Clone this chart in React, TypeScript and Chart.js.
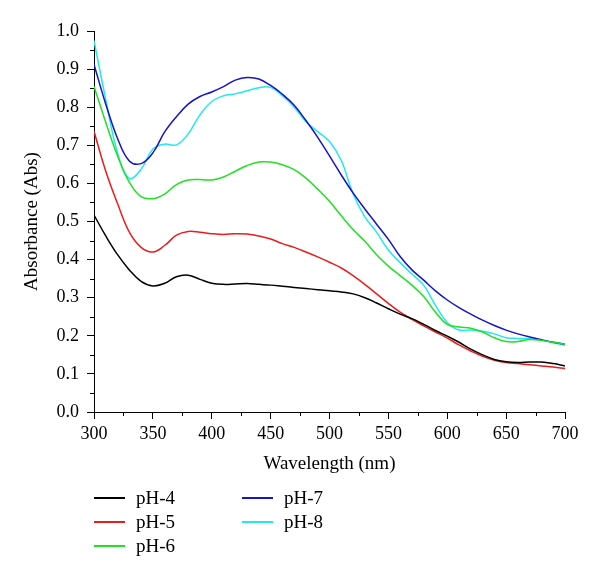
import React, { useEffect, useRef } from "react";
import { Chart, registerables } from "chart.js";

Chart.register(...registerables);

const wavelengths = [
  300, 310, 320, 330, 340, 350, 360, 370, 380, 390, 400, 410, 420, 430, 440, 450, 460, 470, 480, 490,
  500, 510, 520, 530, 540, 550, 560, 570, 580, 590, 600, 610, 620, 630, 640, 650, 660, 670, 680, 690, 700,
];

const ph4 = [
  0.517, 0.462, 0.413, 0.373, 0.343, 0.331, 0.338, 0.355, 0.359, 0.348, 0.338, 0.335, 0.336, 0.337, 0.335, 0.333, 0.33, 0.327, 0.324, 0.321,
  0.318, 0.315, 0.31, 0.3, 0.286, 0.271, 0.257, 0.245, 0.23, 0.214, 0.199, 0.183, 0.165, 0.15, 0.138, 0.132, 0.13, 0.131, 0.131, 0.127, 0.121,
];
const ph5 = [
  0.737, 0.632, 0.547, 0.472, 0.432, 0.42, 0.437, 0.464, 0.474, 0.472, 0.468, 0.466, 0.468, 0.467, 0.462, 0.454, 0.442, 0.432, 0.42, 0.407,
  0.393, 0.378, 0.358, 0.335, 0.31, 0.285, 0.262, 0.243, 0.226, 0.21, 0.194, 0.176, 0.16, 0.146, 0.136, 0.13, 0.127, 0.124, 0.121, 0.118, 0.114,
];
const ph6 = [
  0.855, 0.76, 0.672, 0.603, 0.565, 0.56, 0.572, 0.597, 0.609, 0.61, 0.609, 0.617, 0.632, 0.647, 0.656, 0.656, 0.649, 0.636, 0.614, 0.585,
  0.553, 0.515, 0.479, 0.448, 0.413, 0.383, 0.358, 0.333, 0.303, 0.262, 0.23, 0.223, 0.22, 0.21, 0.195, 0.185, 0.185, 0.19, 0.188, 0.183, 0.178,
];
const ph7 = [
  0.912, 0.808, 0.718, 0.659, 0.652, 0.68, 0.735, 0.775, 0.808, 0.828, 0.84, 0.854, 0.871, 0.878, 0.874, 0.857, 0.834, 0.805, 0.765, 0.721,
  0.672, 0.622, 0.575, 0.533, 0.493, 0.453, 0.408, 0.373, 0.346, 0.318, 0.294, 0.274, 0.257, 0.241, 0.227, 0.215, 0.205, 0.197, 0.19, 0.183, 0.178,
];
const ph8 = [
  0.975, 0.82, 0.68, 0.613, 0.637, 0.69, 0.703, 0.701, 0.73, 0.78, 0.815, 0.83, 0.835, 0.843, 0.851, 0.852, 0.83, 0.8, 0.762, 0.736,
  0.71, 0.66, 0.573, 0.512, 0.472, 0.425, 0.392, 0.362, 0.333, 0.28, 0.235, 0.215, 0.215, 0.212, 0.205, 0.195, 0.193, 0.192, 0.188, 0.182, 0.175,
];

const seriesLabels = ["pH-4", "pH-5", "pH-6", "pH-7", "pH-8"];
const seriesValues = [ph4, ph5, ph6, ph7, ph8];
const seriesColors = ["#000000", "#ec1c1c", "#22e022", "#1414c8", "#22e8f0"];

const xMajorTicks = [300, 350, 400, 450, 500, 550, 600, 650, 700];
const xMinorTicks = [325, 375, 425, 475, 525, 575, 625, 675];
const yMinorTicks = [0.05, 0.15, 0.25, 0.35, 0.45, 0.55, 0.65, 0.75, 0.85, 0.95];

const FONT = "'Liberation Serif', 'DejaVu Serif', serif";

const minorTickPlugin = {
  id: "minorTicks",
  afterDraw(chart: any) {
    const { ctx, chartArea } = chart;
    const xs = chart.scales.x;
    const ys = chart.scales.y;
    ctx.save();
    ctx.strokeStyle = "#000";
    ctx.lineWidth = 1;
    ctx.beginPath();
    for (const v of xMinorTicks) {
      const px = Math.round(xs.getPixelForValue(v)) + 0.5;
      ctx.moveTo(px, chartArea.bottom);
      ctx.lineTo(px, chartArea.bottom + 4);
    }
    for (const v of yMinorTicks) {
      const py = Math.round(ys.getPixelForValue(v)) + 0.5;
      ctx.moveTo(chartArea.left, py);
      ctx.lineTo(chartArea.left - 4, py);
    }
    ctx.stroke();
    ctx.restore();
  },
};

export default function App() {
  const canvasRef = useRef<HTMLCanvasElement | null>(null);

  useEffect(() => {
    if (!canvasRef.current) return;
    const chart = new Chart(canvasRef.current, {
      type: "line",
      data: {
        datasets: seriesLabels.map((label, i) => ({
          label,
          data: wavelengths.map((w, j) => ({ x: w, y: seriesValues[i][j] })),
          borderColor: seriesColors[i],
          backgroundColor: seriesColors[i],
          borderWidth: 1.5,
          pointRadius: 0,
          tension: 0.4,
          fill: false,
        })),
      },
      options: {
        animation: false,
        responsive: false,
        maintainAspectRatio: false,
        layout: { padding: { left: 17, right: 35, top: 31, bottom: 100 } },
        plugins: {
          legend: { display: false },
          tooltip: { enabled: false },
        },
        scales: {
          x: {
            type: "linear",
            min: 300,
            max: 700,
            afterFit: (s: any) => {
              s.height = 67;
            },
            afterBuildTicks: (s: any) => {
              s.ticks = xMajorTicks.map((v) => ({ value: v }));
            },
            ticks: {
              color: "#000",
              font: { family: FONT, size: 18 },
              padding: 4,
              maxRotation: 0,
              autoSkip: false,
            },
            grid: {
              display: true,
              drawOnChartArea: false,
              drawTicks: true,
              tickLength: 7,
              color: "#000",
              lineWidth: 1,
            },
            border: { display: true, color: "#000", width: 1 },
            title: {
              display: true,
              text: "Wavelength (nm)",
              color: "#000",
              font: { family: FONT, size: 19 },
              padding: { top: 4, bottom: 4 },
            },
          },
          y: {
            type: "linear",
            min: 0,
            max: 1,
            afterFit: (s: any) => {
              s.width = 77;
            },
            ticks: {
              stepSize: 0.1,
              color: "#000",
              font: { family: FONT, size: 18 },
              padding: 8,
              callback: (v: any) => Number(v).toFixed(1),
            },
            grid: {
              display: true,
              drawOnChartArea: false,
              drawTicks: true,
              tickLength: 7,
              color: "#000",
              lineWidth: 1,
            },
            border: { display: true, color: "#000", width: 1 },
            title: {
              display: true,
              text: "Absorbance (Abs)",
              color: "#000",
              font: { family: FONT, size: 19 },
              padding: { top: 4, bottom: 4 },
            },
          },
        },
      },
      plugins: [minorTickPlugin],
    });
    return () => chart.destroy();
  }, []);

  const legendPos = [
    { left: 94, top: 498 },
    { left: 94, top: 522 },
    { left: 94, top: 546 },
    { left: 242, top: 498 },
    { left: 242, top: 522 },
  ];

  return (
    <div
      style={{
        position: "absolute",
        left: 0,
        top: 0,
        width: 600,
        height: 579,
        background: "#fff",
      }}
    >
      <canvas ref={canvasRef} width={600} height={579} style={{ display: "block" }} />
      {seriesLabels.map((label, i) => (
        <div
          key={label}
          style={{
            position: "absolute",
            left: legendPos[i].left,
            top: legendPos[i].top - 12,
            height: 24,
            display: "flex",
            alignItems: "center",
            fontFamily: FONT,
            fontSize: 19,
            color: "#000",
            whiteSpace: "nowrap",
          }}
        >
          <div style={{ width: 31, height: 2, background: seriesColors[i], marginRight: 11 }} />
          <span>{label}</span>
        </div>
      ))}
    </div>
  );
}
